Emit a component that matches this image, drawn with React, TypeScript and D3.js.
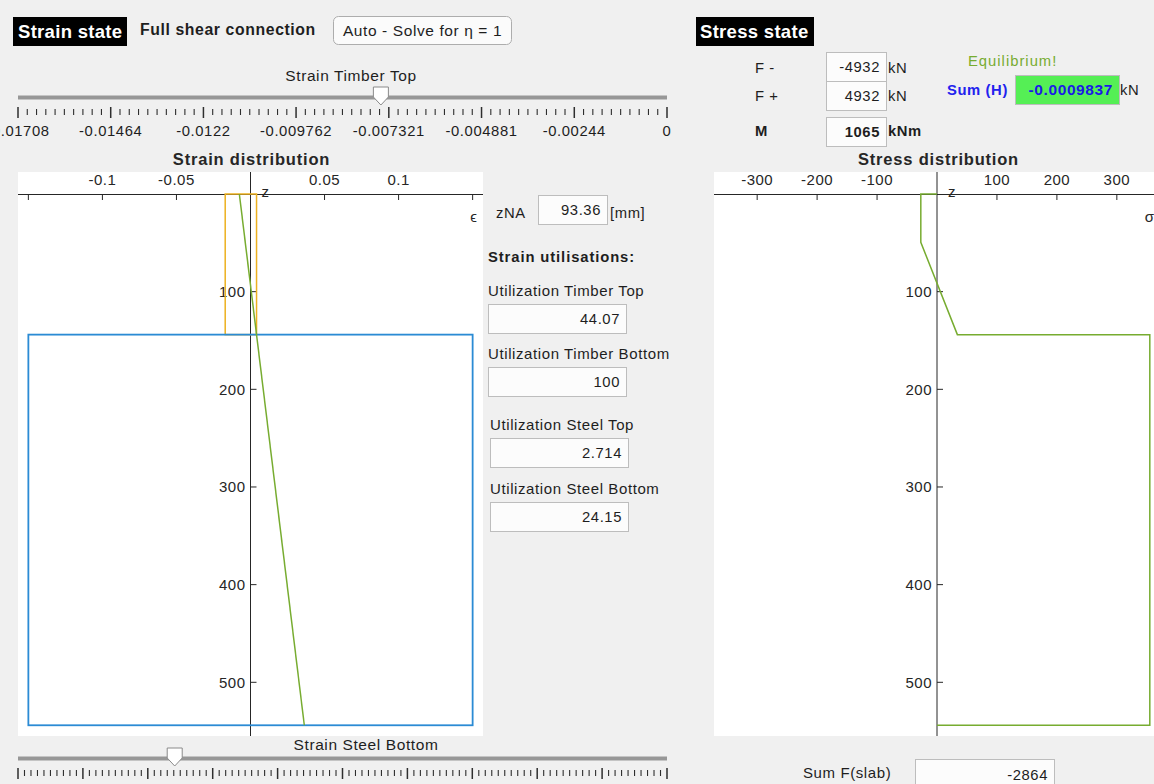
import React from "react";
import * as d3 from "d3";

// ---- section / profile data -------------------------------------------
const strainTicks = [-0.15, -0.1, -0.05, 0, 0.05, 0.1, 0.15];
const strainTickLabels = ["", "-0.1", "-0.05", "", "0.05", "0.1", ""];
const stressTicks = [-300, -200, -100, 0, 100, 200, 300];
const stressTickLabels = ["-300", "-200", "-100", "", "100", "200", "300"];
const depthTicks = [100, 200, 300, 400, 500];

// layer depths in mm (timber on top, steel below)
const timberDepth = [0, 144];
const steelDepth = [144, 544];
// admissible strain ranges of each material
const timberStrainLimits = [-0.01708, 0.00408];
const steelStrainLimits = [-0.15, 0.15];

// linear strain distribution over the depth
const strainProfileZ = [0, 544];
const strainProfileEps = [-0.00753, 0.03634];

// resulting stress distribution [MPa] over the depth
const stressProfileZ = [0, 0, 49.5, 144, 144, 544, 544];
const stressProfileSigma = [0, -27, -27, 34, 355, 355, 0];

// sliders
const timberTopTicks = [-0.01708, -0.01464, -0.0122, -0.009762, -0.007321, -0.004881, -0.00244, 0];
const timberTopTickLabels = ["-0.01708", "-0.01464", "-0.0122", "-0.009762", "-0.007321", "-0.004881", "-0.00244", "0"];
const timberTopValue = -0.00753;
const steelBottomTicks = [0, 0.015, 0.03, 0.045, 0.06, 0.075, 0.09, 0.105, 0.12, 0.135, 0.15];
const steelBottomValue = 0.03622;

// result fields
const zNA = "93.36";
const utilLabels = ["Utilization Timber Top", "Utilization Timber Bottom", "Utilization Steel Top", "Utilization Steel Bottom"];
const utilValues = ["44.07", "100", "2.714", "24.15"];
const forceMinus = "-4932";
const forcePlus = "4932";
const moment = "1065";
const sumH = "-0.0009837";
const sumFSlab = "-2864";

const FONT = "'Liberation Sans', Arial, Helvetica, sans-serif";
const AX = "#262626";
const TXT = "#1e1e1e";
const BLUE = "#2b8bd4";
const ORANGE = "#EDB120";
const GREEN = "#77AC30";
const FS = 14.8; // font size of control texts
const LS = 0.6; // letter spacing of control texts
const LS_AX = 0.5; // letter spacing of axis texts

// ---- scales ----------------------------------------------------------------
const yZ = d3.scaleLinear().domain([0, 500]).range([194, 682.3]);
const xStrain = d3.scaleLinear().domain([-0.157, 0.157]).range([18, 483]);
const xStress = d3.scaleLinear().domain([-372, 372]).range([714, 1160]);
const PLOT_TOP = 172;
const PLOT_BOTTOM = 736;

function TextBox({ x, y, w, h, value, bold = false, fill = "#fcfcfc", color = TXT, size = FS }: any) {
  return (
    <g>
      <rect x={x + 0.5} y={y + 0.5} width={w} height={h} fill={fill} stroke="#bdbdbd" strokeWidth={1} />
      <text
        x={x + w - 6}
        y={y + h / 2 + 5}
        textAnchor="end"
        fontSize={size}
        fontWeight={bold ? "bold" : "normal"}
        fill={color}
        letterSpacing={LS}
      >
        {value}
      </text>
    </g>
  );
}

function Slider({ label, labelX, labelY, trackY, ticks, tickLabels, value, minorCount }: any) {
  const s = d3.scaleLinear().domain([ticks[0], ticks[ticks.length - 1]]).range([18, 667]);
  const minors: number[] = [];
  for (let i = 0; i < ticks.length - 1; i++) {
    for (let k = 1; k < minorCount; k++) minors.push(ticks[i] + ((ticks[i + 1] - ticks[i]) * k) / minorCount);
  }
  const tx = s(value);
  const tickTop = trackY + 11;
  return (
    <g>
      <text x={labelX} y={labelY} textAnchor="middle" fontSize={15.5} fill={TXT} letterSpacing={LS}>{label}</text>
      <rect x={18} y={trackY - 0.5} width={649} height={3.5} fill="#979797" />
      <rect x={18} y={trackY + 3} width={649} height={1} fill="#c4c4c4" />
      {minors.map((m, i) => (
        <line key={"m" + i} x1={s(m)} x2={s(m)} y1={tickTop + 2} y2={tickTop + 8} stroke="#2e2e2e" strokeWidth={1.1} />
      ))}
      {ticks.map((t: number, i: number) => (
        <line key={"M" + i} x1={s(t)} x2={s(t)} y1={tickTop} y2={tickTop + 11} stroke="#2e2e2e" strokeWidth={1.5} />
      ))}
      {tickLabels &&
        tickLabels.map((l: string, i: number) => (
          <text key={"l" + i} x={s(ticks[i])} y={tickTop + 29} textAnchor="middle" fontSize={FS} fill={TXT} letterSpacing={LS}>
            {l}
          </text>
        ))}
      <path
        d={`M${tx - 7.5},${trackY - 9} H${tx + 7.5} V${trackY + 1} L${tx},${trackY + 9} L${tx - 7.5},${trackY + 1} Z`}
        fill="#ffffff"
        stroke="#8a8a8a"
        strokeWidth={1}
      />
    </g>
  );
}

function DepthAxis({ x0, xLeft, xRight, ticks, labels, xs, title, varLabel }: any) {
  const ax = xs(0);
  return (
    <g>
      <rect x={xLeft} y={PLOT_TOP} width={xRight - xLeft} height={PLOT_BOTTOM - PLOT_TOP} fill="#ffffff" />
      <text x={x0} y={165} textAnchor="middle" fontSize={16.5} fontWeight="bold" fill={AX} letterSpacing={0.8}>{title}</text>
      {/* horizontal axis through z = 0 */}
      <line x1={xLeft} x2={xRight} y1={yZ(0) + 0.5} y2={yZ(0) + 0.5} stroke={AX} strokeWidth={1} />
      {ticks.map((t: number, i: number) => (
        <g key={"xt" + i}>
          {t !== 0 && <line x1={xs(t)} x2={xs(t)} y1={yZ(0)} y2={yZ(0) + 6} stroke={AX} strokeWidth={1} />}
          <text x={xs(t)} y={185} textAnchor="middle" fontSize={15} fill={AX} letterSpacing={LS_AX}>{labels[i]}</text>
        </g>
      ))}
      {/* vertical axis through zero */}
      <line x1={ax} x2={ax} y1={PLOT_TOP} y2={PLOT_BOTTOM} stroke={AX} strokeWidth={1} />
      {depthTicks.map((d) => (
        <g key={"yt" + d}>
          <line x1={ax} x2={ax + 6} y1={yZ(d)} y2={yZ(d)} stroke={AX} strokeWidth={1} />
          <text x={ax - 5} y={yZ(d) + 5.5} textAnchor="end" fontSize={15} fill={AX} letterSpacing={LS_AX}>{d}</text>
        </g>
      ))}
      <text x={ax + 11} y={197} fontSize={15} fill={AX}>z</text>
      <text x={Math.min(xRight - 6, 1154)} y={222} textAnchor="end" fontSize={15} fill={AX}>{varLabel}</text>
    </g>
  );
}

export default function App() {
  const strainLine = d3
    .line<number>()
    .x((_, i) => xStrain(strainProfileEps[i]))
    .y((z) => yZ(z))(strainProfileZ);
  const stressLine = d3
    .line<number>()
    .x((_, i) => xStress(stressProfileSigma[i]))
    .y((z) => yZ(z))(stressProfileZ);

  const timberRect = {
    x: xStrain(timberStrainLimits[0]),
    w: xStrain(timberStrainLimits[1]) - xStrain(timberStrainLimits[0]),
    y: yZ(timberDepth[0]),
    h: yZ(timberDepth[1]) - yZ(timberDepth[0]),
  };
  const steelRect = {
    x: xStrain(steelStrainLimits[0]),
    w: xStrain(steelStrainLimits[1]) - xStrain(steelStrainLimits[0]),
    y: yZ(steelDepth[0]),
    h: yZ(steelDepth[1]) - yZ(steelDepth[0]),
  };

  const utilY = [304, 367, 438, 502];
  const utilX = [488, 488, 490, 490];

  return (
    <svg
      width={1154}
      height={784}
      style={{ position: "absolute", left: 0, top: 0, background: "#f0f0f0", fontFamily: FONT }}
      fontFamily={FONT}
    >
      <rect x={0} y={0} width={1154} height={784} fill="#f0f0f0" />

      {/* ---------------- strain side header ---------------- */}
      <rect x={13} y={17} width={114} height={29} fill="#000" />
      <text x={18} y={38} fontSize={18.5} fontWeight="bold" fill="#fff" letterSpacing={0.3}>Strain state</text>
      <text x={140} y={35} fontSize={15.8} fontWeight="bold" fill={TXT} letterSpacing={0.6}>Full shear connection</text>
      <rect x={333.5} y={16.5} width={178} height={28} rx={5} fill="#fbfbfb" stroke="#adadad" />
      <text x={422.5} y={36} textAnchor="middle" fontSize={15.5} fill={TXT} letterSpacing={LS}>Auto - Solve for η = 1</text>

      <Slider
        label="Strain Timber Top"
        labelX={351}
        labelY={81}
        trackY={96}
        ticks={timberTopTicks}
        tickLabels={timberTopTickLabels}
        value={timberTopValue}
        minorCount={10}
      />

      {/* ---------------- strain distribution ---------------- */}
      <DepthAxis
        x0={251.5}
        xLeft={18}
        xRight={483}
        ticks={strainTicks}
        labels={strainTickLabels}
        xs={xStrain}
        title="Strain distribution"
        varLabel="ϵ"
      />
      <rect x={timberRect.x} y={timberRect.y} width={timberRect.w} height={timberRect.h} fill="none" stroke={ORANGE} strokeWidth={1.5} />
      <rect x={steelRect.x} y={steelRect.y} width={steelRect.w} height={steelRect.h} fill="none" stroke={BLUE} strokeWidth={1.8} />
      <path d={strainLine || ""} fill="none" stroke={GREEN} strokeWidth={1.5} />

      <Slider
        label="Strain Steel Bottom"
        labelX={366}
        labelY={750}
        trackY={757}
        ticks={steelBottomTicks}
        tickLabels={null}
        value={steelBottomValue}
        minorCount={10}
      />

      {/* ---------------- strain results ---------------- */}
      <text x={496} y={218} fontSize={FS} fill={TXT} letterSpacing={LS}>zNA</text>
      <TextBox x={538} y={195} w={69} h={29} value={zNA} />
      <text x={610} y={218} fontSize={FS} fill={TXT} letterSpacing={LS}>[mm]</text>
      <text x={488} y={262} fontSize={FS} fontWeight="bold" fill={TXT} letterSpacing={0.9}>Strain utilisations:</text>
      {utilLabels.map((l, i) => (
        <g key={l}>
          <text x={utilX[i]} y={utilY[i] - 8} fontSize={15} fill={TXT} letterSpacing={LS}>{l}</text>
          <TextBox x={utilX[i]} y={utilY[i]} w={138} h={29} value={utilValues[i]} />
        </g>
      ))}

      {/* ---------------- stress side header ---------------- */}
      <rect x={696} y={17} width={118} height={29} fill="#000" />
      <text x={700} y={38} fontSize={18.5} fontWeight="bold" fill="#fff" letterSpacing={0.3}>Stress state</text>

      <text x={755} y={73} fontSize={FS} fill={TXT} letterSpacing={LS}>F -</text>
      <TextBox x={826} y={52} w={60} h={29} value={forceMinus} />
      <text x={888} y={73} fontSize={FS} fill={TXT} letterSpacing={LS}>kN</text>
      <text x={755} y={101} fontSize={FS} fill={TXT} letterSpacing={LS}>F +</text>
      <TextBox x={826} y={81} w={60} h={29} value={forcePlus} />
      <text x={888} y={101} fontSize={FS} fill={TXT} letterSpacing={LS}>kN</text>
      <text x={755} y={136} fontSize={FS} fontWeight="bold" fill={TXT} letterSpacing={LS}>M</text>
      <TextBox x={826} y={117} w={60} h={29} value={moment} bold />
      <text x={888} y={136} fontSize={FS} fontWeight="bold" fill={TXT} letterSpacing={LS}>kNm</text>

      <text x={968} y={66} fontSize={FS} fill={GREEN} letterSpacing={1}>Equilibrium!</text>
      <text x={947} y={95} fontSize={FS} fontWeight="bold" fill="#2222ee" letterSpacing={LS}>Sum (H)</text>
      <TextBox x={1015} y={75} w={104} h={29} value={sumH} fill="#55ef55" color="#1a1ae6" bold size={15.5} />
      <text x={1120} y={95} fontSize={FS} fill={TXT} letterSpacing={LS}>kN</text>

      {/* ---------------- stress distribution ---------------- */}
      <DepthAxis
        x0={938.5}
        xLeft={714}
        xRight={1160}
        ticks={stressTicks}
        labels={stressTickLabels}
        xs={xStress}
        title="Stress distribution"
        varLabel="σ"
      />
      <path d={stressLine || ""} fill="none" stroke={GREEN} strokeWidth={1.5} />

      <text x={803} y={778} fontSize={15} fill={TXT} letterSpacing={LS}>Sum F(slab)</text>
      <TextBox x={915} y={759} w={139} h={32} value={sumFSlab} />
    </svg>
  );
}
